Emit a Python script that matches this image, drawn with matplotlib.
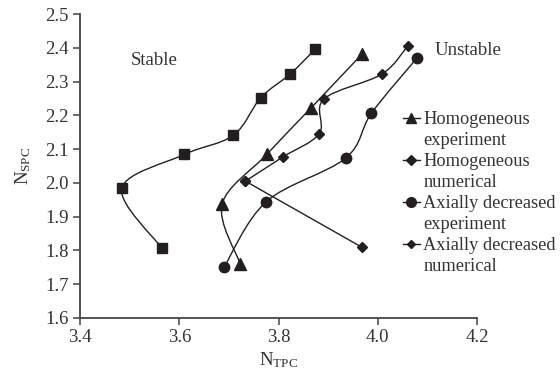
import matplotlib
matplotlib.use('Agg')
import matplotlib.pyplot as plt
from matplotlib.path import Path
from matplotlib.patches import PathPatch
from matplotlib.lines import Line2D

plt.rcParams['font.family'] = ['Liberation Serif', 'DejaVu Serif']
plt.rcParams['mathtext.fontset'] = 'custom'
plt.rcParams['mathtext.rm'] = 'Liberation Serif'

INK = '#231f20'
TXT = '#333333'

# unlabelled series (squares)
sq_x = [3.565, 3.484, 3.610, 3.709, 3.764, 3.823, 3.874]
sq_y = [1.806, 1.984, 2.084, 2.141, 2.252, 2.322, 2.396]

# homogeneous experiment (triangles)
hexp_x = [3.723, 3.686, 3.776, 3.866, 3.968]
hexp_y = [1.759, 1.936, 2.084, 2.223, 2.381]

# homogeneous numerical (diamonds)
hnum_x = [3.733, 3.809, 3.882, 3.891, 4.008, 4.060]
hnum_y = [2.005, 2.077, 2.146, 2.248, 2.322, 2.405]

# axially decreased experiment (circles)
aexp_x = [3.690, 3.775, 3.935, 3.987, 4.079]
aexp_y = [1.750, 1.944, 2.073, 2.206, 2.370]

# axially decreased numerical (diamonds)
anum_x = [3.733, 3.968]
anum_y = [2.005, 1.809]


def smooth(ax, xs, ys):
    # excel-like smoothed line: catmull-rom as cubic bezier segments
    pts = list(zip(xs, ys))
    n = len(pts)
    verts = [pts[0]]
    codes = [Path.MOVETO]
    for i in range(n - 1):
        p0 = pts[max(i - 1, 0)]
        p1 = pts[i]
        p2 = pts[i + 1]
        p3 = pts[min(i + 2, n - 1)]
        c1 = (p1[0] + (p2[0] - p0[0]) / 6, p1[1] + (p2[1] - p0[1]) / 6)
        c2 = (p2[0] - (p3[0] - p1[0]) / 6, p2[1] - (p3[1] - p1[1]) / 6)
        verts += [c1, c2, p2]
        codes += [Path.CURVE4] * 3
    ax.add_patch(PathPatch(Path(verts, codes), fill=False, edgecolor=INK, lw=1.0))


fig = plt.figure(figsize=(5.6, 3.7), dpi=100)
ax = fig.add_axes([0.143, 0.141, 0.709, 0.821])

series = [
    (sq_x, sq_y, 's', 7.5),
    (hexp_x, hexp_y, '^', 8),
    (hnum_x, hnum_y, 'D', 5.5),
    (aexp_x, aexp_y, 'o', 7.5),
    (anum_x, anum_y, 'D', 5),
]
for xs, ys, m, ms in series:
    smooth(ax, xs, ys)
    ax.plot(xs, ys, linestyle='none', marker=m, markersize=ms, color=INK, zorder=3)

ax.set_xlim(3.4, 4.2)
ax.set_ylim(1.6, 2.5)
ax.set_xticks([3.4, 3.6, 3.8, 4.0, 4.2])
ax.set_yticks([1.6, 1.7, 1.8, 1.9, 2.0, 2.1, 2.2, 2.3, 2.4, 2.5])
ax.xaxis.set_major_formatter(plt.FormatStrFormatter('%.1f'))
ax.yaxis.set_major_formatter(plt.FormatStrFormatter('%.1f'))
for s in ['top', 'right']:
    ax.spines[s].set_visible(False)
for s in ['left', 'bottom']:
    ax.spines[s].set_color('#444444')
    ax.spines[s].set_linewidth(1.3)
ax.tick_params(direction='out', length=5, width=1.1, color='#444444',
               labelsize=13.5, labelcolor=TXT, pad=3)

ax.set_xlabel(r'$\mathregular{N_{TPC}}$', fontsize=13.5, color=TXT, labelpad=3)
ax.set_ylabel(r'$\mathregular{N_{SPC}}$', fontsize=13.5, color=TXT, labelpad=9)

ax.text(3.549, 2.361, 'Stable', fontsize=13.5, color=TXT, ha='center', va='center')
ax.text(4.182, 2.393, 'Unstable', fontsize=13.5, color=TXT, ha='center', va='center')

blank = Line2D([], [], linestyle='none')
handles = [
    Line2D([], [], color=INK, lw=1, marker='^', markersize=7),
    blank,
    Line2D([], [], color=INK, lw=1, marker='D', markersize=5),
    blank,
    Line2D([], [], color=INK, lw=1, marker='o', markersize=7),
    blank,
    Line2D([], [], color=INK, lw=1, marker='D', markersize=4.5),
    blank,
]
labels = ['Homogeneous', 'experiment', 'Homogeneous', 'numerical',
          'Axially decreased', 'experiment', 'Axially decreased', 'numerical']
leg = fig.legend(handles, labels, loc='upper left', bbox_to_anchor=(0.72, 0.7),
                 frameon=False, fontsize=13.2, handlelength=0.9, handletextpad=0.2,
                 labelspacing=0.22, borderpad=0, borderaxespad=0)
for t in leg.get_texts():
    t.set_color(TXT)

fig.savefig('out.png', dpi=100)
